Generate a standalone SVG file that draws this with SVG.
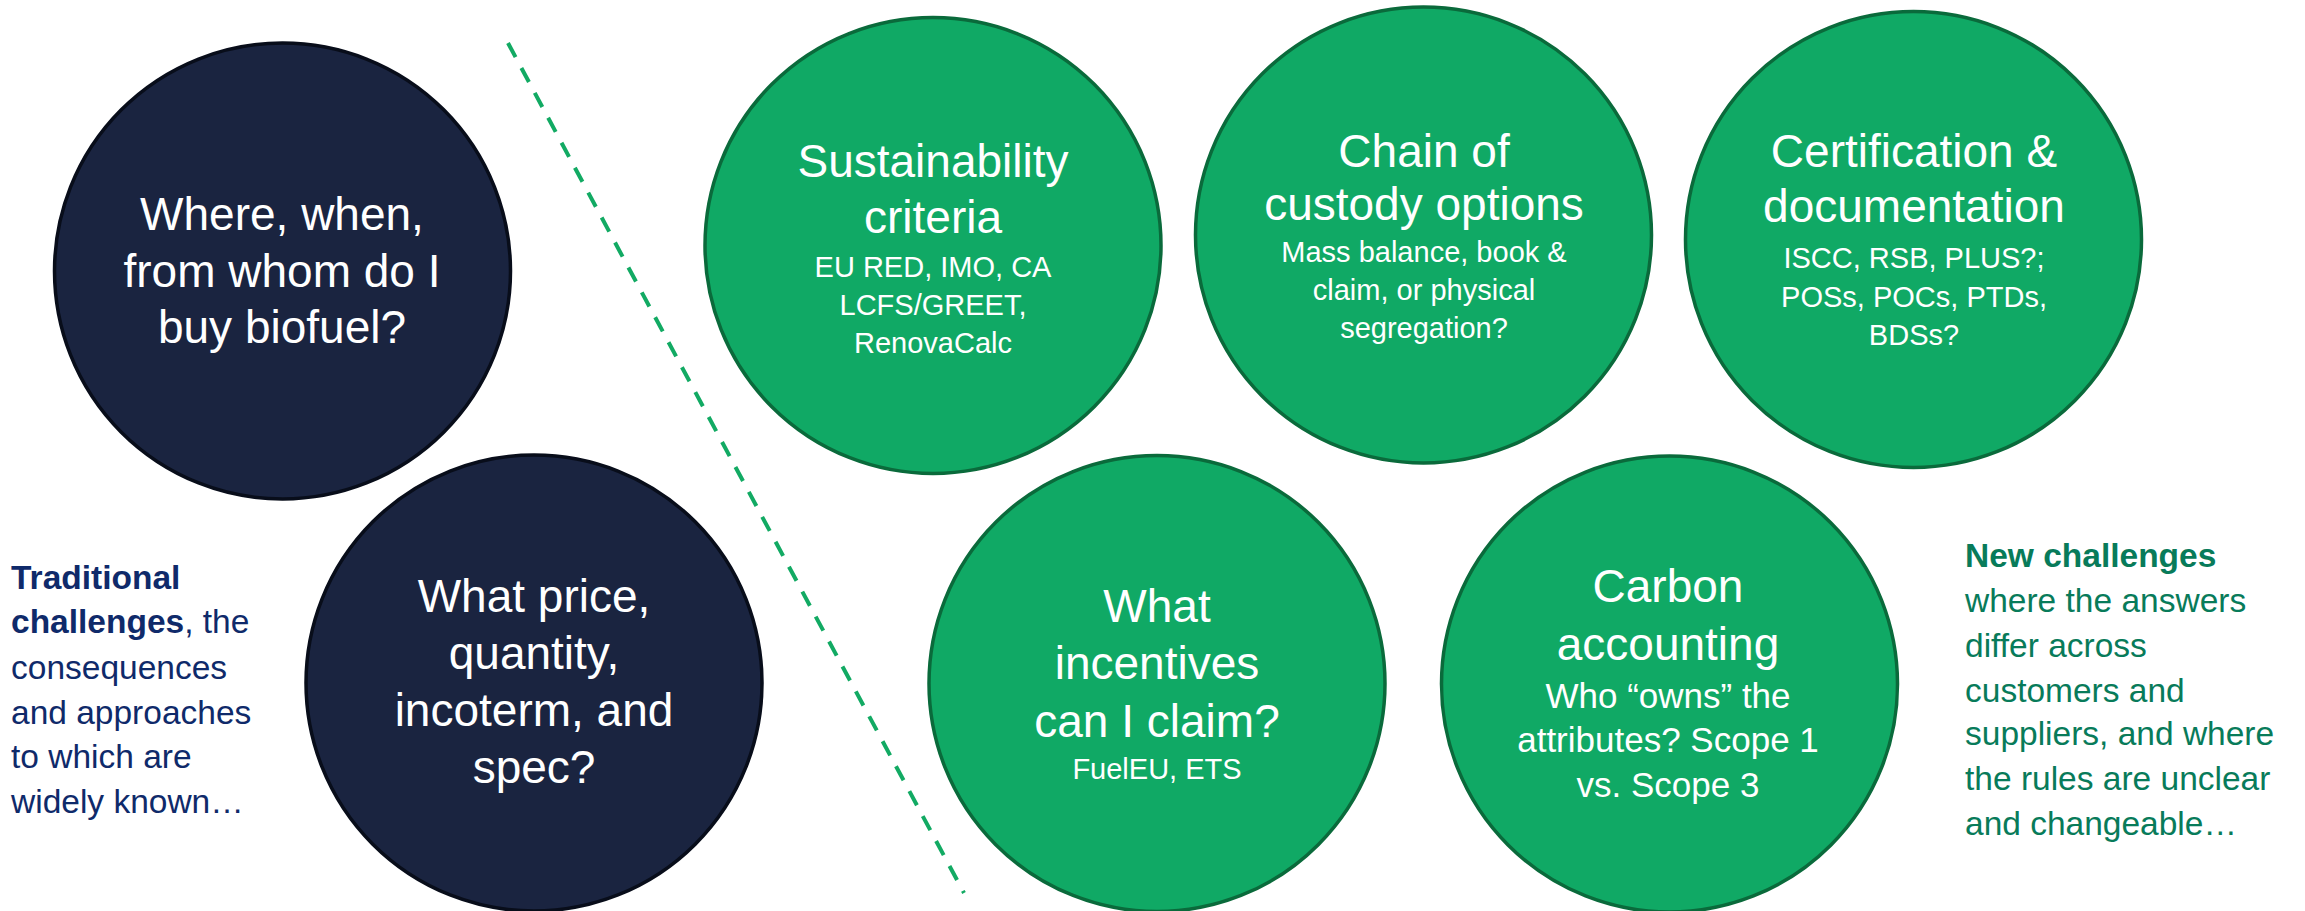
<svg xmlns="http://www.w3.org/2000/svg" width="2305" height="911" viewBox="0 0 2305 911">
<style>
.navy{fill:#1a2440;stroke:#080d1a;stroke-width:3.5}
.green{fill:#10a965;stroke:#0a6a3b;stroke-width:3.5}
text{font-family:"Liberation Sans",Arial,sans-serif;fill:#ffffff;text-anchor:middle}
.t{font-size:46px}
.s{font-size:29px}
.s2{font-size:35px}
.side{font-size:33.5px;text-anchor:start}
.trad{fill:#0f2a6a}
.newc{fill:#087b5a}
.b{font-weight:bold}
</style>
<rect width="2305" height="911" fill="#ffffff"/>
<g id="connectors">
<line x1="508" y1="43" x2="964" y2="893" stroke="#12aa63" stroke-width="4" stroke-dasharray="16 12.3"/>
</g>
<g id="node-where">
<circle class="navy" cx="282.5" cy="271" r="228"/>
<text class="t" x="282" y="230">Where, when,</text>
<text class="t" x="282" y="287">from whom do I</text>
<text class="t" x="282" y="343">buy biofuel?</text>
</g>
<g id="node-price">
<circle class="navy" cx="534" cy="683" r="228"/>
<text class="t" x="534" y="612">What price,</text>
<text class="t" x="534" y="669">quantity,</text>
<text class="t" x="534" y="726">incoterm, and</text>
<text class="t" x="534" y="783">spec?</text>
</g>
<g id="node-sustainability">
<circle class="green" cx="933" cy="245.5" r="228"/>
<text class="t" x="933" y="177">Sustainability</text>
<text class="t" x="933" y="233">criteria</text>
<text class="s" x="933" y="277">EU RED, IMO, CA</text>
<text class="s" x="933" y="315">LCFS/GREET,</text>
<text class="s" x="933" y="353">RenovaCalc</text>
</g>
<g id="node-chain">
<circle class="green" cx="1423.5" cy="235" r="228"/>
<text class="t" x="1424" y="167">Chain of</text>
<text class="t" x="1424" y="220">custody options</text>
<text class="s" x="1424" y="262">Mass balance, book &amp;</text>
<text class="s" x="1424" y="300">claim, or physical</text>
<text class="s" x="1424" y="338">segregation?</text>
</g>
<g id="node-certification">
<circle class="green" cx="1913.5" cy="239.5" r="228"/>
<text class="t" x="1914" y="167">Certification &amp;</text>
<text class="t" x="1914" y="222">documentation</text>
<text class="s" x="1914" y="268">ISCC, RSB, PLUS?;</text>
<text class="s" x="1914" y="307">POSs, POCs, PTDs,</text>
<text class="s" x="1914" y="345">BDSs?</text>
</g>
<g id="node-incentives">
<circle class="green" cx="1157" cy="683.5" r="228"/>
<text class="t" x="1157" y="622">What</text>
<text class="t" x="1157" y="679">incentives</text>
<text class="t" x="1157" y="737">can I claim?</text>
<text class="s" x="1157" y="779">FuelEU, ETS</text>
</g>
<g id="node-carbon">
<circle class="green" cx="1669.5" cy="684" r="228"/>
<text class="t" x="1668" y="602">Carbon</text>
<text class="t" x="1668" y="660">accounting</text>
<text class="s2" x="1668" y="708">Who “owns” the</text>
<text class="s2" x="1668" y="752">attributes? Scope 1</text>
<text class="s2" x="1668" y="797">vs. Scope 3</text>
</g>
<g id="label-traditional">
<text class="side trad" x="11" y="589"><tspan class="b">Traditional</tspan></text>
<text class="side trad" x="11" y="633"><tspan class="b">challenges</tspan>, the</text>
<text class="side trad" x="11" y="679">consequences</text>
<text class="side trad" x="11" y="724">and approaches</text>
<text class="side trad" x="11" y="768">to which are</text>
<text class="side trad" x="11" y="813">widely known…</text>
</g>
<g id="label-new">
<text class="side newc b" x="1965" y="567">New challenges</text>
<text class="side newc" x="1965" y="612">where the answers</text>
<text class="side newc" x="1965" y="657">differ across</text>
<text class="side newc" x="1965" y="702">customers and</text>
<text class="side newc" x="1965" y="745">suppliers, and where</text>
<text class="side newc" x="1965" y="790">the rules are unclear</text>
<text class="side newc" x="1965" y="835">and changeable…</text>
</g>
</svg>
